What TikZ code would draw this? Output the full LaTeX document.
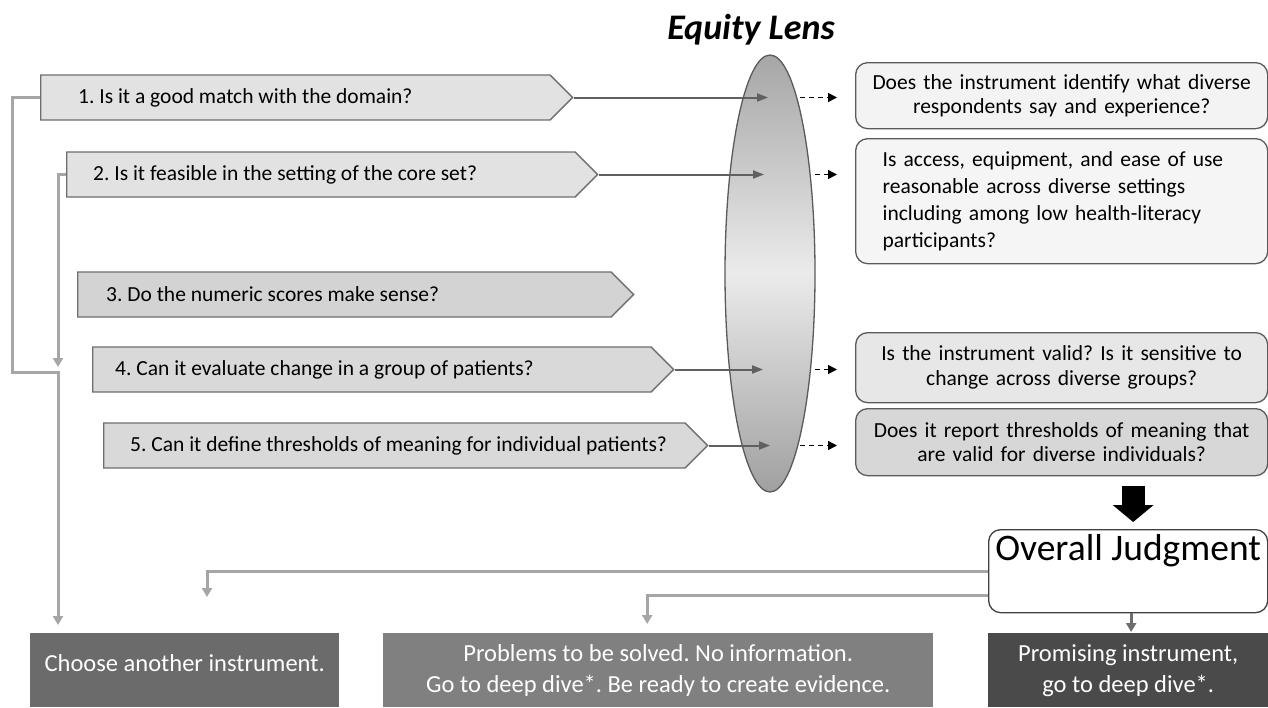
\documentclass[tikz,border=0pt]{standalone}
\usepackage{fontspec}
\setmainfont{Carlito}
\usepackage{tikz}
\usetikzlibrary{shapes.symbols,shapes.geometric,arrows.meta}
\frenchspacing

\definecolor{qline}{HTML}{6E6E6E}
\definecolor{qfillA}{HTML}{E2E2E2}
\definecolor{qfillB}{HTML}{D3D3D3}
\definecolor{qfillC}{HTML}{D9D9D9}
\definecolor{rline}{HTML}{5A5A5A}
\definecolor{rfillA}{HTML}{F3F3F3}
\definecolor{rfillB}{HTML}{F5F5F5}
\definecolor{rfillC}{HTML}{E7E7E7}
\definecolor{rfillD}{HTML}{D7D7D7}
\definecolor{fbgray}{HTML}{A6A6A6}
\definecolor{lensgray}{HTML}{606060}
\definecolor{lenstop}{HTML}{A6A6A6}
\definecolor{lensmid}{HTML}{EBEBEB}
\definecolor{lensbot}{HTML}{A0A0A0}
\definecolor{outA}{HTML}{6B6B6B}
\definecolor{outB}{HTML}{808080}
\definecolor{outC}{HTML}{4A4A4A}

\newcommand{\qfont}{\fontsize{21.5}{26}\selectfont}
\newcommand{\outfont}{\fontsize{24.5}{31}\selectfont}

\begin{document}
\begin{tikzpicture}[x=1pt,y=-1pt,
    qbox/.style={signal, signal to=east, signal from=nowhere, signal pointer angle=90,
      draw=qline, line width=1.3pt, minimum height=45pt, inner sep=0pt, anchor=west},
    qtext/.style={anchor=west, inner sep=0pt, font=\qfont},
    rbox/.style={rectangle, rounded corners=12pt, draw=rline, line width=1.3pt,
      minimum width=412pt, anchor=north west, inner xsep=16pt, text width=380pt, align=center},
    outbox/.style={rectangle, anchor=north west, minimum height=74pt, inner sep=0pt,
      text=white, font=\outfont, align=center},
    lensarrow/.style={draw=lensgray, line width=2pt, -{Triangle[width=8pt,length=11pt]}},
    eqarrow/.style={black, line width=1.5pt, dash pattern=on 5pt off 4pt,
      -{Triangle[width=9pt,length=9pt]}, shorten >=18pt},
    fb/.style={draw=fbgray, line width=3pt, -{Triangle[width=10pt,length=9pt]}}]
\useasboundingbox (0,0) rectangle (1268,707);

% lens
\node[font=\fontsize{36}{40}\selectfont\bfseries\itshape] (title) at (751,30) {Equity Lens};
\node[ellipse, draw=rline, line width=1.3pt, minimum width=90pt, minimum height=437pt, inner sep=0pt,
  top color=lenstop, bottom color=lensbot, middle color=lensmid] (lens) at (770,273.5) {};

% the five questions
\node[qbox, fill=qfillA, minimum width=532pt,
  label={[qtext, xshift=38pt]west:{1. Is it a good match with the domain?}}] (q1) at (40,97.5) {};
\node[qbox, fill=qfillA, minimum width=531pt,
  label={[qtext, xshift=27pt]west:{2. Is it feasible in the setting of the core set?}}] (q2) at (66,174.5) {};
\node[qbox, fill=qfillB, minimum width=556pt,
  label={[qtext, xshift=29pt]west:{3. Do the numeric scores make sense?}}] (q3) at (77,294.5) {};
\node[qbox, fill=qfillC, minimum width=581pt,
  label={[qtext, xshift=23pt]west:{4. Can it evaluate change in a group of patients?}}] (q4) at (92,369.5) {};
\node[qbox, fill=qfillC, minimum width=604pt,
  label={[qtext, xshift=27pt]west:{5. Can it define thresholds of meaning for individual patients?}}] (q5) at (103,445.5) {};

% equity questions
\node[rbox, fill=rfillA, minimum height=66pt, font=\fontsize{21.5}{23.5}\selectfont] (r1) at (855,62)
  {Does the instrument identify what diverse\\ respondents say and experience?};
\node[rbox, fill=rfillB, minimum height=125pt, inner xsep=27pt, text width=358pt, align=left,
  font=\fontsize{21.5}{27}\selectfont] (r2) at (855,138)
  {Is access, equipment, and ease of use\\ reasonable across diverse settings\\
   including among low health-literacy\\ participants?};
\node[rbox, fill=rfillC, minimum height=70pt, font=\fontsize{21.5}{25}\selectfont] (r3) at (855,332)
  {Is the instrument valid? Is it sensitive to\\ change across diverse groups?};
\node[rbox, fill=rfillD, minimum height=67pt, font=\fontsize{21.5}{24}\selectfont] (r4) at (855,408)
  {Does it report thresholds of meaning that\\ are valid for diverse individuals?};

% judgment and outcomes
\node[rectangle, rounded corners=12pt, draw=black!75, line width=1.3pt, fill=white, anchor=north west,
  minimum width=279pt, inner ysep=4.5pt, text height=26pt, text depth=48pt,
  font=\fontsize{37.5}{40}\selectfont] (oj) at (988,529) {Overall Judgment};
\node[outbox, fill=outA, minimum width=309pt, text height=38pt, text depth=36pt] (b1) at (30,633)
  {Choose another instrument.};
\node[outbox, fill=outB, minimum width=550pt] (b2) at (383,633)
  {Problems to be solved. No information.\\ Go to deep dive*. Be ready to create evidence.};
\node[outbox, fill=outC, minimum width=280pt] (b3) at (988,633)
  {Promising instrument,\\ go to deep dive*.};

% into the lens
\coordinate (a1) at (768,97.5);
\coordinate (a2) at (764,174.5);
\coordinate (a4) at (763,369.5);
\coordinate (a5) at (770,445.5);
\draw[lensarrow] (q1.east) -- (a1);
\draw[lensarrow] (q2.east) -- (a2);
\draw[lensarrow] (q4.east) -- (a4);
\draw[lensarrow] (q5.east) -- (a5);

\coordinate (d1) at (800,97.5);
\coordinate (d2) at (815,174.5);
\coordinate (d4) at (815,369.5);
\coordinate (d5) at (800,445.5);
\draw[eqarrow] (d1) -- (d1 -| r1.west);
\draw[eqarrow] (d2) -- (d2 -| r2.west);
\draw[eqarrow] (d4) -- (d4 -| r3.west);
\draw[eqarrow] (d5) -- (d5 -| r4.west);

\draw[line width=23pt, -{Triangle[width=40pt,length=17pt]}, shorten <=10pt, shorten >=7pt]
  ([xshift=5pt]oj.north |- r4.south) -- ([xshift=5pt]oj.north);

% feedback
\coordinate (k1) at (12,372);
\coordinate (j4) at (58,367);
\coordinate (f1) at (207,597);
\draw[fb, shorten >=8pt] (q1.west) -| (k1) -| ([xshift=28pt]b1.north west);
\draw[fb] (q2.west) -| (j4);
\draw[fb] (oj.west) -| (f1);
\draw[fb, shorten >=9pt] ([yshift=-24.5pt]oj.west) -| ([xshift=-11pt]b2.north);
\draw[draw=qline, line width=3pt, -{Triangle[width=10pt,length=9pt]}, shorten >=1pt]
  ([xshift=3pt]oj.south) -- ([xshift=3pt]oj.south |- b3.north);
\end{tikzpicture}
\end{document}
